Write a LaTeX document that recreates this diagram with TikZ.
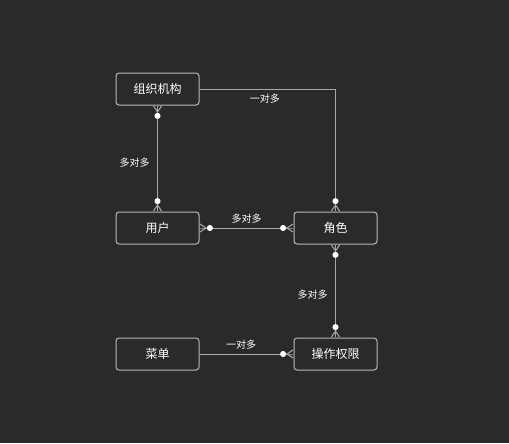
\documentclass[tikz,border=0pt]{standalone}
\usepackage{fontspec}
\setmainfont{Noto Sans CJK SC}
\usepackage{tikz}
\usetikzlibrary{positioning}
\usetikzlibrary{arrows.meta}
\definecolor{bgdark}{HTML}{2A2A2A}
\definecolor{linegray}{HTML}{A8A8A8}
\definecolor{boxgray}{HTML}{B8B8B8}
\tikzstyle{entity} = [rectangle, draw=boxgray, fill=bgdark, text=white, line width=0.75pt,
                minimum width=62.25pt, minimum height=24pt, rounded corners=2.25pt,
                inner sep=0pt, font=\fontsize{9}{9}\selectfont]
\tikzstyle{rel} = [draw=linegray, line width=0.75pt]
\tikzstyle{lbl} = [text=white, inner sep=1pt, font=\fontsize{7.5}{7.5}\selectfont]
\tikzset{crow/.tip={Circle[length=4.5pt, color=white] Straight Barb[reversed, length=4.5pt, width=6pt, sep=-4.5pt] Rectangle[length=4.5pt, width=0.75pt]}}

\begin{document}
\begin{tikzpicture}
        \fill[bgdark] (-118.125pt,66.75pt) rectangle (263.625pt,-265.5pt);
        \node[entity](org){组织机构};
        \node[entity, below=79.5pt of org](user){用户};
        \node[entity, right=70.5pt of user](role){角色};
        \node[entity, below=69.75pt of role](perm){操作权限};
        \node[entity, left=70.5pt of perm](menu){菜单};
        \path[rel, {crow}-{crow}] (org) -- (user) node[lbl, midway, left=4.5pt, yshift=-3.5pt]{多对多};
        \path[rel, -{crow}] (org) -| (role) node[lbl, pos=0.25, below=2.5pt, xshift=-2pt]{一对多};
        \path[rel, {crow}-{crow}] (user) -- (role) node[lbl, midway, above=2pt]{多对多};
        \path[rel, {crow}-{crow}] (role) -- (perm) node[lbl, midway, left=4.5pt, yshift=-2.5pt]{多对多};
        \path[rel, -{crow}] (menu) -- (perm) node[lbl, midway, above=2pt, xshift=-4pt]{一对多};
\end{tikzpicture}
\end{document}
